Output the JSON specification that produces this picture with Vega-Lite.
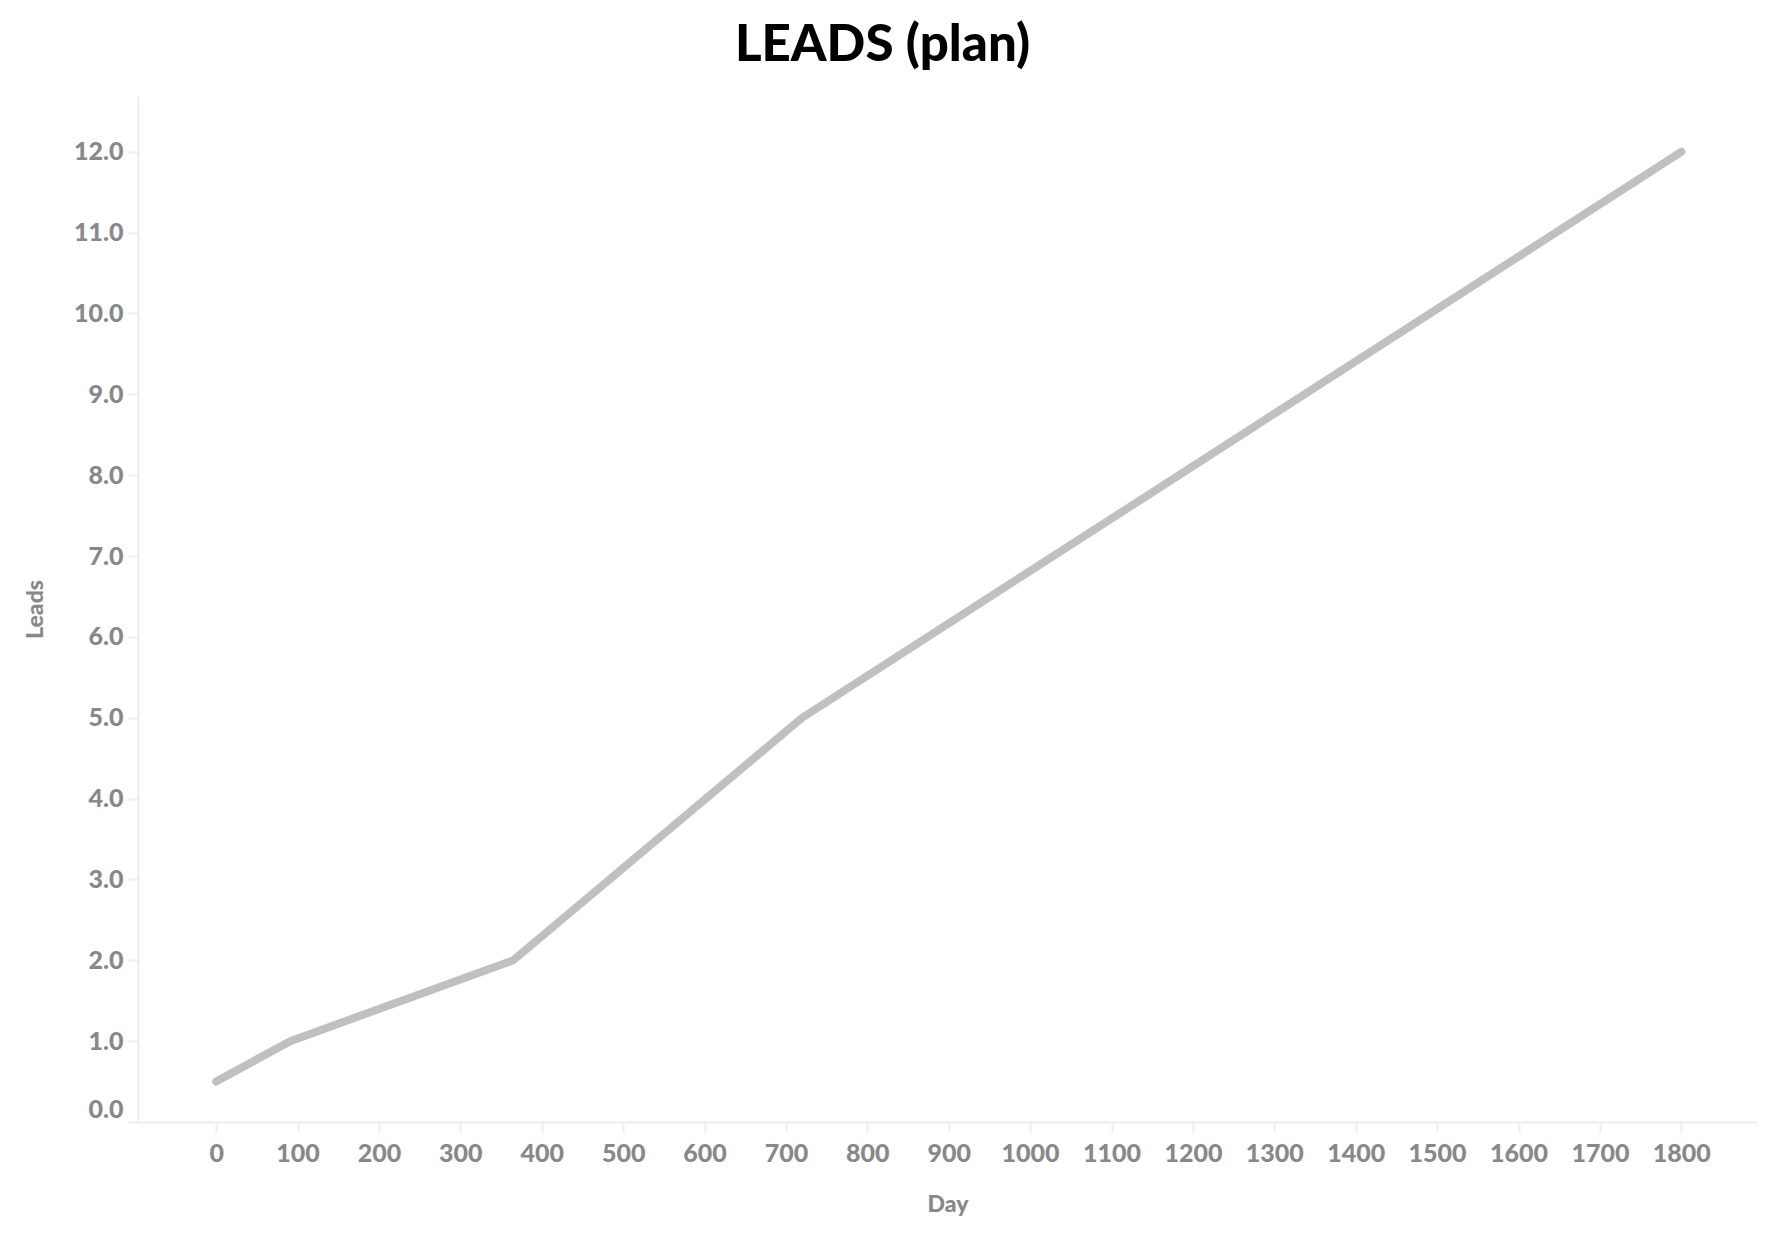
{
  "$schema": "https://vega.github.io/schema/vega-lite/v6.json",
  "width": 1619,
  "height": 1026,
  "autosize": "none",
  "padding": {"left": 138, "top": 96, "right": 13, "bottom": 112},
  "background": "white",
  "title": {
    "text": "LEADS (plan)",
    "font": "Lato",
    "fontSize": 51,
    "fontWeight": 900,
    "color": "#000000",
    "anchor": "middle",
    "frame": "group",
    "dx": -65,
    "offset": 24
  },
  "config": {
    "view": {"stroke": null},
    "axis": {
      "labelFont": "Lato",
      "labelFontWeight": 900,
      "labelFontSize": 25,
      "labelColor": "#888888",
      "titleFont": "Lato",
      "titleFontWeight": 900,
      "titleFontSize": 23,
      "titleColor": "#888888",
      "domainColor": "#eeeeee",
      "domainWidth": 2,
      "tickColor": "#eeeeee",
      "tickWidth": 2,
      "grid": false
    }
  },
  "data": {
    "values": [
      {"day": 0, "leads": 0.5},
      {"day": 91, "leads": 1.0},
      {"day": 365, "leads": 2.0},
      {"day": 720, "leads": 5.0},
      {"day": 1800, "leads": 12.0}
    ]
  },
  "mark": {"type": "line", "color": "#c0c0c0", "strokeWidth": 8, "strokeCap": "round", "strokeJoin": "round"},
  "encoding": {
    "x": {
      "field": "day",
      "type": "quantitative",
      "title": "Day",
      "scale": {"domain": [-96, 1893], "nice": false, "zero": false},
      "axis": {
        "values": [0,100,200,300,400,500,600,700,800,900,1000,1100,1200,1300,1400,1500,1600,1700,1800],
        "format": "d",
        "labelFlush": false,
        "tickSize": 10,
        "labelPadding": 9,
        "titlePadding": 27
      }
    },
    "y": {
      "field": "leads",
      "type": "quantitative",
      "title": "Leads",
      "scale": {"domain": [0, 12.69], "nice": false},
      "axis": {
        "values": [0,1,2,3,4,5,6,7,8,9,10,11,12],
        "format": ".1f",
        "labelFlush": true,
        "tickSize": 10,
        "labelPadding": 5,
        "titlePadding": 26
      }
    }
  }
}
